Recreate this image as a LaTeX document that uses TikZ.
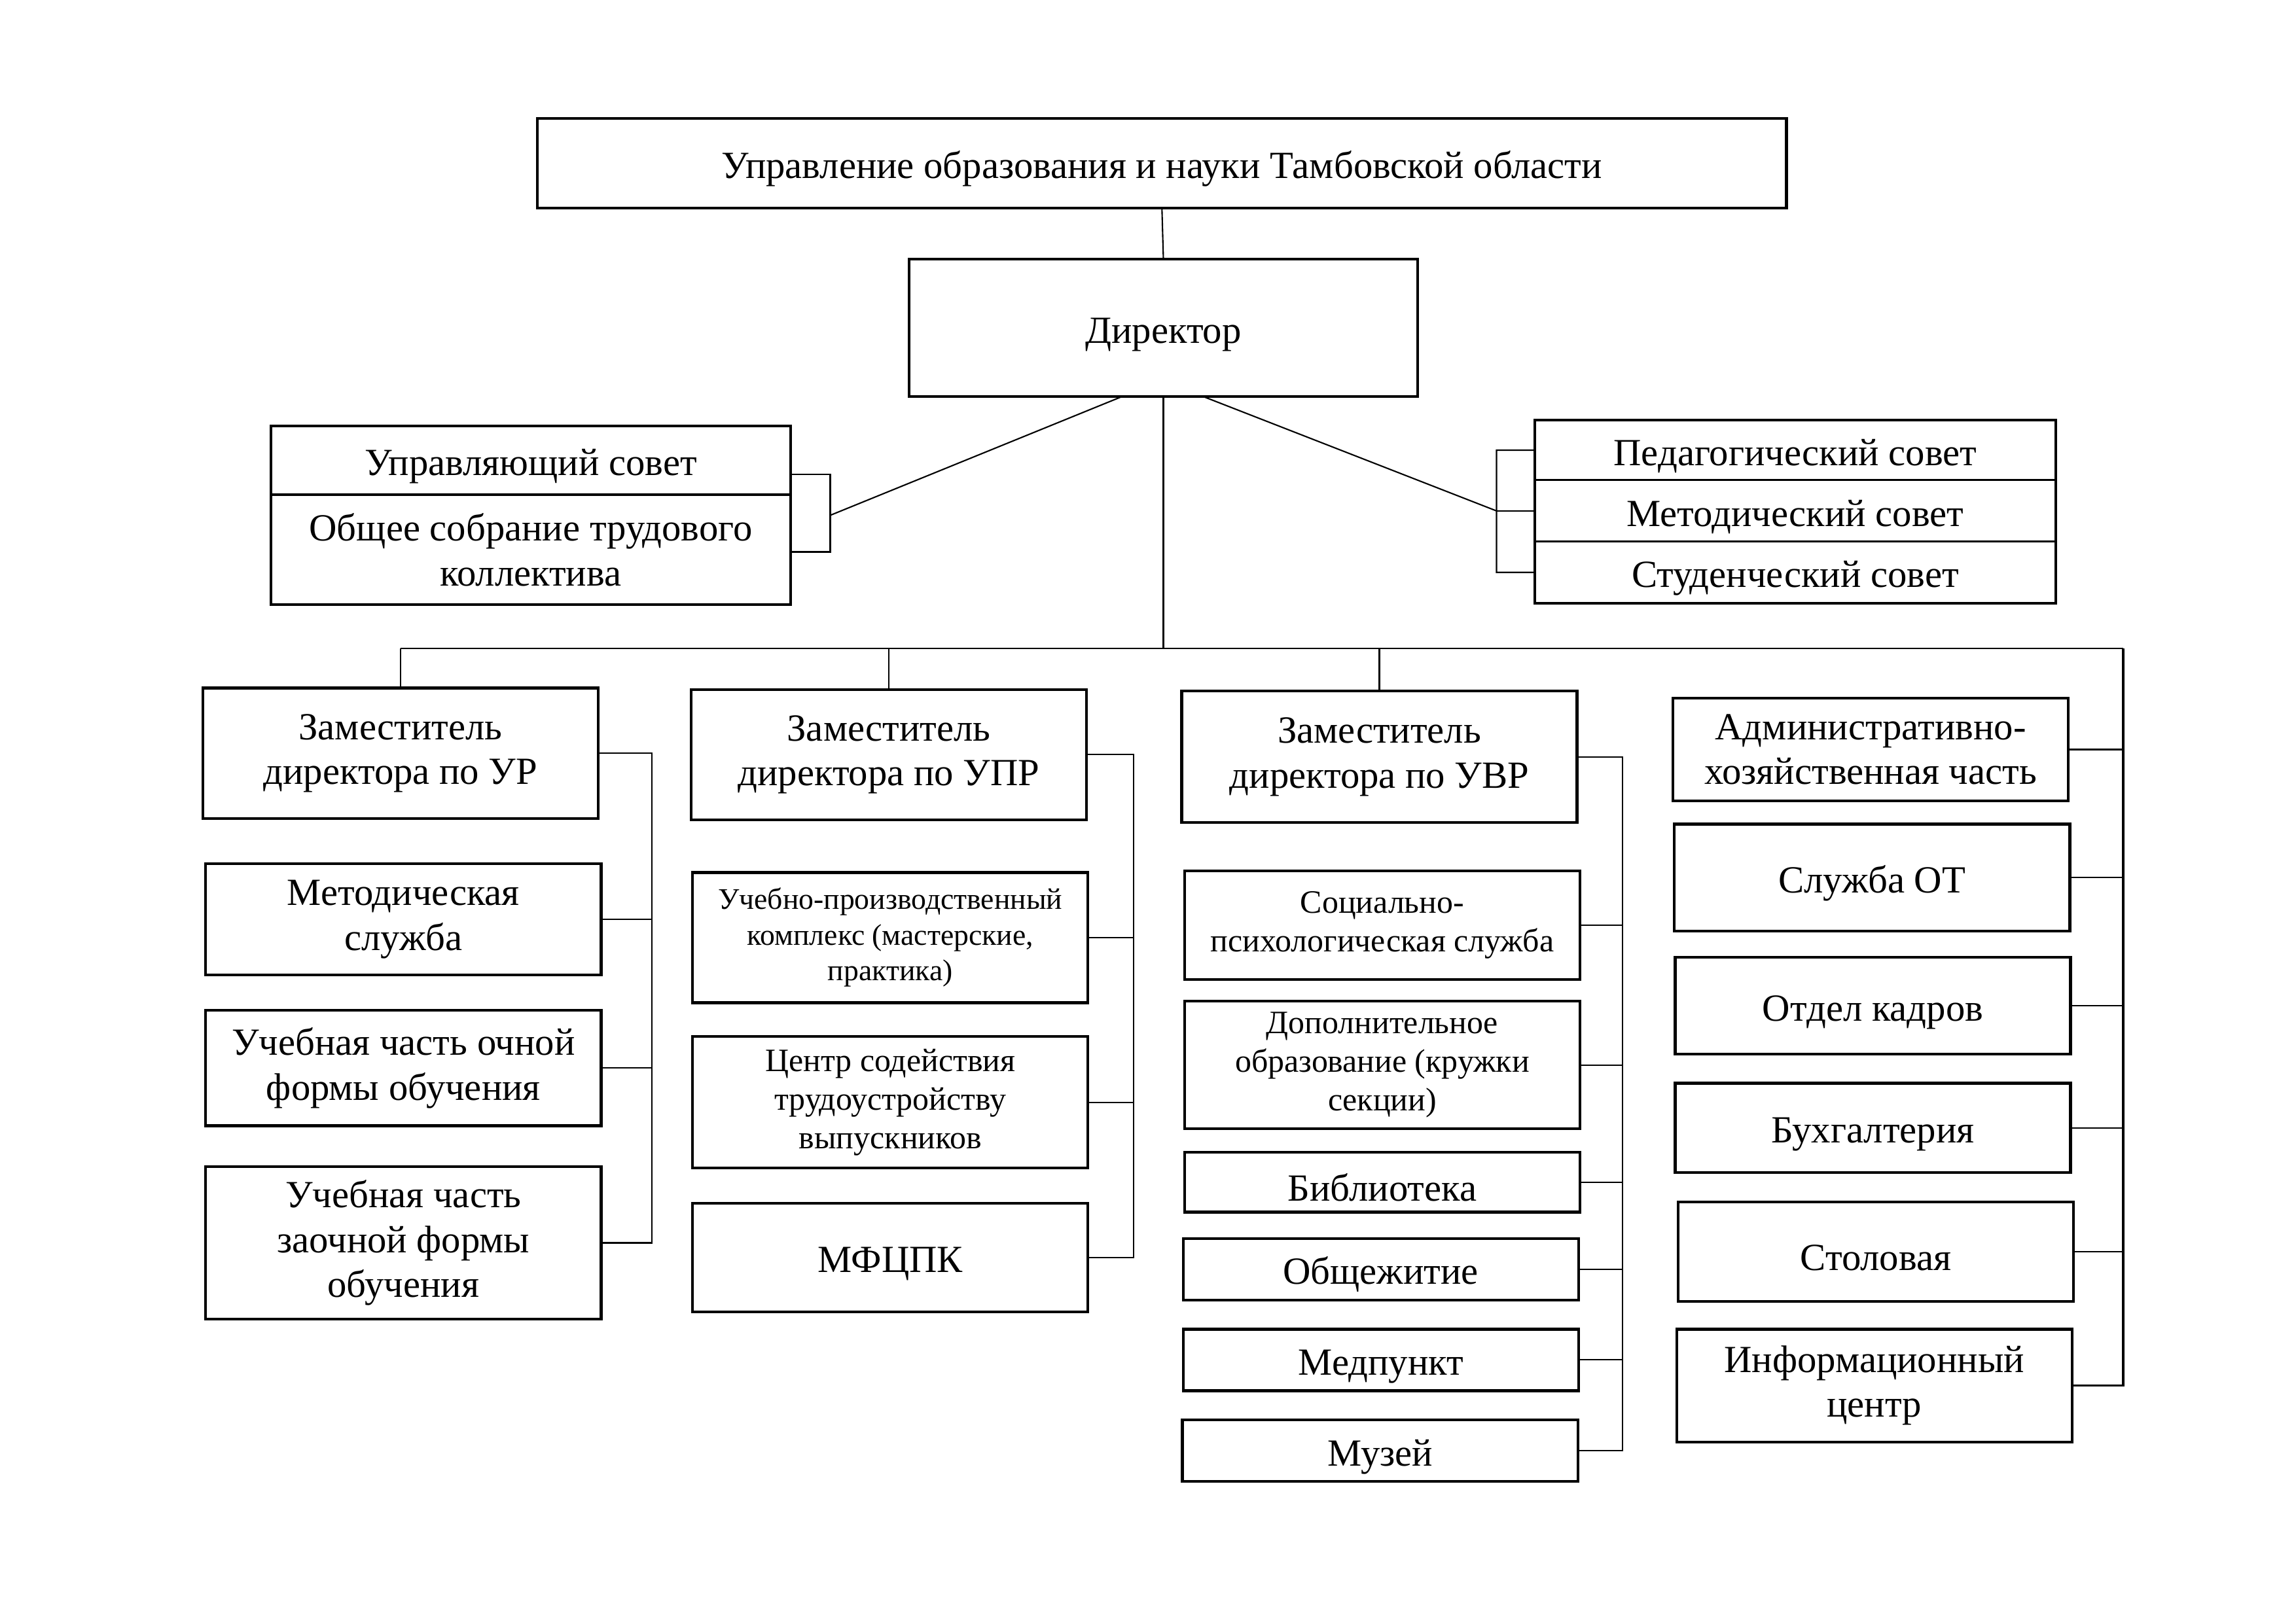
\documentclass[tikz,border=0pt]{standalone}
\usepackage{fontspec}
\setmainfont{Liberation Serif}
\usepackage{tikz}
\usetikzlibrary{positioning}
\tikzset{
  box/.style args={#1/#2}{draw=black, line width=1.2pt, fill=white, align=center, inner sep=2pt, outer sep=0pt,
    minimum width=#1*0.22372mm, minimum height=#2*0.22372mm, font=\fontsize{16.7}{19.5}\selectfont,
    execute at begin node={\rule{0pt}{1.0em}}},
  small/.style={font=\fontsize{13}{15.5}\selectfont},
  mid/.style={font=\fontsize{14.2}{16.8}\selectfont},
  row/.style={line width=0.8pt},
  link/.style={draw=black, line width=0.6pt}
}

\begin{document}
\begin{tikzpicture}[x=0.22372mm, y=-0.22372mm]
    \useasboundingbox (0,0) rectangle (1568,1109);          % page frame
    \node [box=853/61] (upr) at (793.5,111.5) {Управление образования и науки Тамбовской области};
    \node [box=347/94] (dir) at (794.5,224) {Директор};
    % left councils
    \node [box=355/47] (usov) at (362.5,314.5) {Управляющий совет};
    \node [box=355/75, row, below=0pt of usov] (sobr) {Общее собрание трудового\\коллектива};
    \draw [line width=1.2pt] (usov.north west) rectangle (sobr.south east);
    % right councils
    \node [box=356/41] (ped) at (1226,307.5) {Педагогический совет};
    \node [box=356/42, row, below=0pt of ped] (met) {Методический совет};
    \node [box=356/42, row, below=0pt of met] (stud) {Студенческий совет};
    \draw [line width=1.2pt] (ped.north west) rectangle (stud.south east);
    % column 1
    \node [box=270/89] (zur) at (273.5,514.5) {Заместитель\\директора по УР};
    \node [box=270/76] (metod) at (275.5,628) {Методическая\\служба};
    \node [box=270/79] (ochn) at (275.5,729.5) {Учебная часть очной\\формы обучения};
    \node [box=270/104] (zaoch) at (275.5,849) {Учебная часть\\заочной формы\\обучения};
    % column 2
    \node [box=270/89] (zupr) at (607,515.5) {Заместитель\\директора по УПР};
    \node [box=270/89, small] (upk) at (608,640.5) {Учебно-производственный\\комплекс (мастерские,\\практика)};
    \node [box=270/90, mid] (csod) at (608,753) {Центр содействия\\трудоустройству\\выпускников};
    \node [box=270/74] (mfc) at (608,859) {МФЦПК};
    % column 3
    \node [box=270/90] (zuvr) at (942,517) {Заместитель\\директора по УВР};
    \node [box=270/74, mid] (soc) at (944,632) {Социально-\\психологическая служба};
    \node [box=270/87, mid] (dop) at (944,727.5) {Дополнительное\\образование (кружки\\секции)};
    \node [box=270/41] (bibl) at (944,807.5) {Библиотека};
    \node [box=270/42] (obsh) at (943,867) {Общежитие};
    \node [box=270/42] (med) at (943,929) {Медпункт};
    \node [box=270/42] (muz) at (942.5,991) {Музей};
    % column 4
    \node [box=270/70] (ahch) at (1277.5,512) {Административно-\\хозяйственная часть};
    \node [box=270/73] (ot) at (1278.5,599.5) {Служба ОТ};
    \node [box=270/66] (kadr) at (1279,687) {Отдел кадров};
    \node [box=270/61] (buh) at (1279,770.5) {Бухгалтерия};
    \node [box=270/68] (stol) at (1281,855) {Столовая};
    \node [box=270/77] (info) at (1280,946.5) {Информационный\\центр};

    \coordinate (bus) at (794.5,443);                       % main bus
    \coordinate (rbus) at (1450,443);
    \coordinate (lt) at (567,324);                          % left bracket
    \coordinate (lm) at (567,352);
    \coordinate (lb) at (567,377);
    \coordinate (dl) at (766,271);
    \coordinate (rb) at (1022,349);                         % right bracket
    \coordinate (dr) at (822,271);
    \coordinate (b1) at (445,443);                          % column brackets
    \coordinate (b2) at (774,443);
    \coordinate (b3) at (1108,443);

    \draw [link] (upr.south) -- (dir.north);                % ministry to director
    \draw [link] (dir.south) -- (bus);                      % director to bus
    \draw [link] (zur.north |- bus) -- (rbus);              % bus
    \draw [link] (zur.north |- bus) -- (zur.north);
    \draw [link] (zupr.north |- bus) -- (zupr.north);
    \draw [link] (zuvr.north |- bus) -- (zuvr.north);
    % councils
    \draw [link] (usov.east |- lt) -- (lt) -- (lb) -- (sobr.east |- lb);
    \draw [link] (lm) -- (dl);
    \draw [link] (ped.west) -- (ped.west -| rb) -- (stud.west -| rb) -- (stud.west)
                 (met.west) -- (rb) -- (dr);
    % column 1
    \draw [link] (zur.east) -- (zur.east -| b1) -- (zaoch.east -| b1) -- (zaoch.east)
                 (metod.east) -- (metod.east -| b1) (ochn.east) -- (ochn.east -| b1);
    % column 2
    \draw [link] (zupr.east) -- (zupr.east -| b2) -- (mfc.east -| b2) -- (mfc.east)
                 (upk.east) -- (upk.east -| b2) (csod.east) -- (csod.east -| b2);
    % column 3
    \draw [link] (zuvr.east) -- (zuvr.east -| b3) -- (muz.east -| b3) -- (muz.east)
                 (soc.east) -- (soc.east -| b3) (dop.east) -- (dop.east -| b3)
                 (bibl.east) -- (bibl.east -| b3) (obsh.east) -- (obsh.east -| b3)
                 (med.east) -- (med.east -| b3);
    % column 4
    \draw [link, line width=1pt] (rbus) -- (info.east -| rbus) -- (info.east);
    \draw [link] (ahch.east) -- (ahch.east -| rbus) (ot.east) -- (ot.east -| rbus)
                 (kadr.east) -- (kadr.east -| rbus) (buh.east) -- (buh.east -| rbus)
                 (stol.east) -- (stol.east -| rbus);
\end{tikzpicture}
\end{document}
